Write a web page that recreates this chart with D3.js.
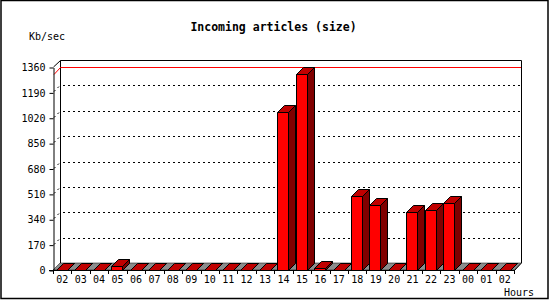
<!DOCTYPE html>
<html>
<head>
<meta charset="utf-8">
<script src="https://cdn.jsdelivr.net/npm/d3@7"></script>
<style>
  body { margin: 0; background: #fff; }
  text { font-family: "DejaVu Sans Mono", monospace; font-size: 10px; fill: #000; }
</style>
</head>
<body>
<div id="chart"></div>
<script>
// hours on the x axis (first and last are both "02")
var hours = ["02", "03", "04", "05", "06", "07", "08", "09", "10", "11", "12", "13",
  "14", "15", "16", "17", "18", "19", "20", "21", "22", "23", "00", "01", "02"];

// Kb/sec per hour
var sizeValues = [1, 1, 1, 27, 1, 1, 1, 1, 1, 1, 1, 1,
  1060, 1311, 15, 1, 496, 433, 1, 386, 400, 449, 1, 1, 1];

var yTicks = [0, 170, 340, 510, 680, 850, 1020, 1190, 1360];

var svgWidth = 550;
var svgHeight = 300;

// front plane of the box, the back wall sits depth px up and right
var plot = { left: 53, right: 514, top: 67, bottom: 270 };
var depth = 7;
var barW = 11;

var svg = d3.select("#chart")
  .append("svg")
  .attr("width", svgWidth)
  .attr("height", svgHeight);

// outer frame
svg.append("rect")
  .attr("x", 1)
  .attr("y", 0.5)
  .attr("width", 547)
  .attr("height", 298)
  .attr("fill", "none")
  .attr("stroke", "#000")
  .attr("stroke-width", 1.5);

var xBand = d3.scaleBand()
  .domain(d3.range(hours.length))
  .range([plot.left, plot.right])
  .paddingInner(0)
  .paddingOuter(0);

var yLinearScale = d3.scaleLinear()
  .domain([0, 1360])
  .range([plot.bottom, plot.top]);

// back wall + left wall outline
var frame = svg.append("g")
  .attr("fill", "none")
  .attr("stroke", "#000")
  .attr("stroke-width", 1);

frame.append("path")
  .attr("d", `M${plot.left + depth + 0.5},${plot.bottom - depth}
    L${plot.left + depth + 0.5},${plot.top - depth + 0.5}
    L${plot.right + depth + 0.5},${plot.top - depth + 0.5}
    L${plot.right + depth + 0.5},${plot.bottom - depth}
    L${plot.right + 0.5},${plot.bottom + 0.5}`);

frame.append("line")
  .attr("x1", plot.left + 0.5).attr("y1", plot.top)
  .attr("x2", plot.left + depth + 0.5).attr("y2", plot.top - depth + 0.5);

// dotted grid on back wall and left wall
var grid = svg.append("g")
  .attr("stroke", "#000")
  .attr("stroke-dasharray", "2,3");

yTicks.slice(1, -1).forEach(function(v) {
  var yf = Math.round(yLinearScale(v)) + 0.5;
  grid.append("line")
    .attr("x1", plot.left + depth + 3).attr("y1", yf - depth)
    .attr("x2", plot.right + depth).attr("y2", yf - depth);
  grid.append("line")
    .attr("x1", plot.left + 1).attr("y1", yf - 1)
    .attr("x2", plot.left + depth).attr("y2", yf - depth);
});

// red max line
var maxV = d3.max(sizeValues);
var yMax = Math.round(yLinearScale(maxV)) + 0.5;
svg.append("path")
  .attr("d", `M${plot.left + 1},${yMax} L${plot.left + depth + 0.5},${yMax - depth} L${plot.right + depth},${yMax - depth}`)
  .attr("fill", "none")
  .attr("stroke", "#ff0000");

// grey floor
svg.append("path")
  .attr("d", `M${plot.left},${plot.bottom} L${plot.right},${plot.bottom}
    L${plot.right + depth},${plot.bottom - depth} L${plot.left + depth},${plot.bottom - depth} Z`)
  .attr("fill", "#8c8c8c")
  .attr("stroke", "#000")
  .attr("stroke-width", 0.5);

// 3d bars
var bars = svg.append("g")
  .attr("stroke", "#000")
  .attr("stroke-width", 1)
  .attr("stroke-linejoin", "round");

sizeValues.forEach(function(v, i) {
  var x0 = Math.round(xBand(i) + 3) + 0.5;
  var x1 = x0 + barW;
  var yt = Math.round(yLinearScale(v)) + 0.5;
  var yb = plot.bottom + 0.5;

  bars.append("path")
    .attr("fill", "#800000")
    .attr("d", `M${x1},${yt} L${x1 + depth},${yt - depth} L${x1 + depth},${yb - depth} L${x1},${yb} Z`);
  bars.append("path")
    .attr("fill", "#c00000")
    .attr("d", `M${x0},${yt} L${x1},${yt} L${x1 + depth},${yt - depth} L${x0 + depth},${yt - depth} Z`);
  if (yb - yt > 1) {
    bars.append("rect")
      .attr("fill", "#ff0000")
      .attr("x", x0).attr("y", yt)
      .attr("width", barW).attr("height", yb - yt);
  }
});

// y axis
var leftAxis = d3.axisLeft(yLinearScale)
  .tickValues(yTicks)
  .tickFormat(d3.format("d"))
  .tickSizeInner(4)
  .tickSizeOuter(0)
  .tickPadding(4);

var yAxis = svg.append("g")
  .attr("transform", `translate(${plot.left + 0.5}, 0.5)`)
  .call(leftAxis);
yAxis.selectAll("text").style("font-size", "10px").style("font-family", "DejaVu Sans Mono");
yAxis.select(".domain").attr("stroke", "#000");

// x axis: labels at centres, ticks at slot edges
var bottomAxis = d3.axisBottom(xBand)
  .tickFormat(i => hours[i])
  .tickSize(0)
  .tickPadding(5);

var xAxis = svg.append("g")
  .attr("transform", `translate(0, ${plot.bottom + 0.5})`)
  .call(bottomAxis);
xAxis.select(".domain").remove();
xAxis.selectAll("text").style("font-size", "10px").style("font-family", "DejaVu Sans Mono");

svg.append("line")
  .attr("x1", plot.left - 4).attr("y1", plot.bottom + 0.5)
  .attr("x2", plot.right).attr("y2", plot.bottom + 0.5)
  .attr("stroke", "#000");

svg.append("g")
  .selectAll("line")
  .data(d3.range(hours.length + 1))
  .enter()
  .append("line")
  .attr("x1", d => Math.round(plot.left + d * xBand.bandwidth()) + 0.5)
  .attr("x2", d => Math.round(plot.left + d * xBand.bandwidth()) + 0.5)
  .attr("y1", plot.bottom)
  .attr("y2", plot.bottom + 4)
  .attr("stroke", "#000");

// titles
svg.append("text")
  .attr("x", 273.5)
  .attr("y", 30.5)
  .attr("text-anchor", "middle")
  .style("font-size", "11.5px")
  .style("font-weight", "bold")
  .text("Incoming articles (size)");

svg.append("text")
  .attr("x", 29)
  .attr("y", 40)
  .text("Kb/sec");

svg.append("text")
  .attr("x", 504)
  .attr("y", 296)
  .text("Hours");
</script>
</body>
</html>
